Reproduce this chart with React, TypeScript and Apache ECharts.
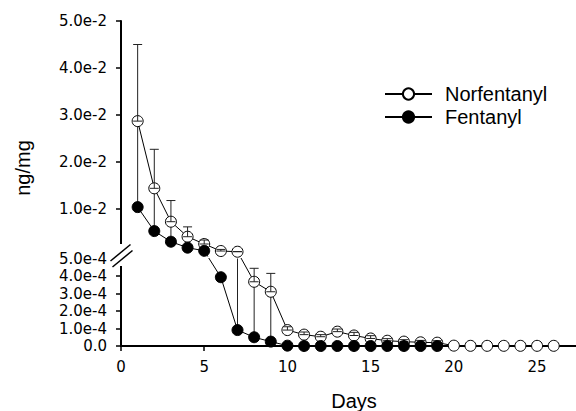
import React, { useEffect, useRef } from "react";
import * as echarts from "echarts";

// ---- data ----
const days: number[] = [1, 2, 3, 4, 5, 6, 7, 8, 9, 10, 11, 12, 13, 14, 15, 16, 17, 18, 19, 20, 21, 22, 23, 24, 25, 26];
const norfentanyl: number[] = [
  2.87e-2, 1.44e-2, 7.3e-3, 4.1e-3, 2.55e-3, 1.06e-3, 9.1e-4, 3.67e-4, 3.1e-4, 0.91e-4,
  0.65e-4, 0.53e-4, 0.82e-4, 0.6e-4, 0.43e-4, 0.3e-4, 0.25e-4, 0.21e-4, 0.19e-4,
  0.02e-4, 0.01e-4, 0.01e-4, 0.01e-4, 0.01e-4, 0.01e-4, 0.01e-4,
];
const fentanyl: number[] = [
  1.04e-2, 5.3e-3, 3.04e-3, 1.77e-3, 1.1e-3, 3.93e-4, 0.91e-4, 0.5e-4, 0.25e-4, 0.02e-4,
  0, 0, 0, 0, 0, 0, 0, 0, 0,
];
// upper end of the Norfentanyl error bars (days 1-19)
const norfErrHigh: number[] = [
  4.5e-2, 2.27e-2, 1.18e-2, 6.2e-3, 3.4e-3, 1.4e-3, 9.5e-4, 4.44e-4, 4.15e-4, 1.1e-4,
  0.8e-4, 0.65e-4, 0.97e-4, 0.78e-4, 0.59e-4, 0.42e-4, 0.36e-4, 0.32e-4, 0.3e-4,
];
// lower end of the Norfentanyl error bars (null = not visible)
const norfErrLow: (number | null)[] = [
  1.04e-2, 5.3e-3, 3.04e-3, 1.77e-3, 1.1e-3, null, 0.91e-4, 0.5e-4, 0.25e-4,
];
const upperTicks = { min: 0, max: 0.05, interval: 0.01 };
const lowerTicks = { min: 0, max: 5e-4, interval: 1e-4 };

// ---- layout ----
const W = 576;
const H = 411;
const LEFT = 121;
const U_TOP = 21;
const U_H = 235;
const L_TOP = 258.5;
const L_H = 87.5;

const yUpper = (v: number) => U_TOP + U_H * (1 - v / upperTicks.max);
const yLower = (v: number) => L_TOP + L_H * (1 - v / lowerTicks.max);
// value expressed on the upper axis (values of the lower segment are pushed below it)
const toUpper = (v: number) => (v > lowerTicks.max ? v : upperTicks.max * (1 - (yLower(v) - U_TOP) / U_H));
// value expressed on the lower axis (values of the upper segment are pushed above it)
const toLower = (v: number) => (v <= lowerTicks.max ? v : lowerTicks.max * (1 - (yUpper(v) - L_TOP) / L_H));

const TICK_FONT = "DejaVu Sans";
const TITLE_FONT = "Liberation Sans";

function App() {
  const ref = useRef<HTMLDivElement>(null);
  useEffect(() => {
    if (!ref.current) return;
    const chart = echarts.init(ref.current, undefined, { renderer: "svg" });

    const makeSeries = (tf: (v: number) => number, gi: number) => {
      const norfData = days.map((d, i) => [d, tf(norfentanyl[i])]);
      const fentData = fentanyl.map((v, i) => [days[i], tf(v)]);
      const highData = norfErrHigh.map((t, i) => [days[i], tf(norfentanyl[i]), tf(t)]);
      const lowData: number[][] = [];
      norfErrLow.forEach((l, i) => {
        if (l != null) lowData.push([days[i], tf(norfentanyl[i]), tf(l)]);
      });
      return [
        {
          type: "custom",
          name: "Norfentanyl error low",
          xAxisIndex: gi,
          yAxisIndex: gi,
          clip: true,
          z: 1,
          data: lowData,
          renderItem: (params: any, api: any) => {
            const p0 = api.coord([api.value(0), api.value(1)]);
            const p1 = api.coord([api.value(0), api.value(2)]);
            return {
              type: "line",
              shape: { x1: p0[0], y1: p0[1], x2: p1[0], y2: p1[1] },
              style: { stroke: "#222", lineWidth: 1 },
            };
          },
        },
        {
          type: "line",
          name: "Norfentanyl",
          xAxisIndex: gi,
          yAxisIndex: gi,
          z: 2,
          data: norfData,
          symbol: "circle",
          symbolSize: 11,
          showAllSymbol: true,
          clip: true,
          lineStyle: { color: "#000", width: 1 },
          itemStyle: { color: "#fff", borderColor: "#000", borderWidth: 1 },
        },
        {
          type: "custom",
          name: "Norfentanyl error high",
          xAxisIndex: gi,
          yAxisIndex: gi,
          clip: true,
          z: 3,
          data: highData,
          renderItem: (params: any, api: any) => {
            const p0 = api.coord([api.value(0), api.value(1)]);
            const p1 = api.coord([api.value(0), api.value(2)]);
            const hw = 4.5;
            const st = { stroke: "#222", lineWidth: 1 };
            return {
              type: "group",
              children: [
                { type: "line", shape: { x1: p0[0], y1: p0[1], x2: p1[0], y2: p1[1] }, style: st },
                { type: "line", shape: { x1: p1[0] - hw, y1: p1[1], x2: p1[0] + hw, y2: p1[1] }, style: st },
                { type: "line", shape: { x1: p0[0] - hw, y1: p0[1], x2: p0[0] + hw, y2: p0[1] }, style: st },
              ],
            };
          },
        },
        {
          type: "line",
          name: "Fentanyl",
          xAxisIndex: gi,
          yAxisIndex: gi,
          z: 4,
          data: fentData,
          symbol: "circle",
          symbolSize: 11,
          showAllSymbol: true,
          clip: true,
          lineStyle: { color: "#000", width: 1 },
          itemStyle: { color: "#000", borderColor: "#000", borderWidth: 1 },
        },
      ];
    };

    const xAxisBase = {
      type: "value",
      min: 0,
      max: 28,
      interval: 5,
    };
    const axisLine = { show: true, lineStyle: { color: "#000", width: 2 } };
    const axisTick = { show: true, inside: false, length: 5, lineStyle: { color: "#000", width: 1.5 } };

    const option: any = {
      animation: false,
      backgroundColor: "#fff",
      grid: [
        { left: LEFT, top: U_TOP, height: U_H, right: -11, outerBoundsMode: "none", containLabel: false },
        { left: LEFT, top: L_TOP, height: L_H, right: -11, outerBoundsMode: "none", containLabel: false },
      ],
      xAxis: [
        { ...xAxisBase, gridIndex: 0, show: false },
        {
          ...xAxisBase,
          gridIndex: 1,
          axisLine,
          axisTick,
          splitLine: { show: false },
          axisLabel: {
            showMaxLabel: false,
            margin: 13,
            color: "#000",
            fontFamily: TICK_FONT,
            fontSize: 15,
          },
          name: "Days",
          nameLocation: "middle",
          nameGap: 45,
          nameTextStyle: { color: "#000", fontFamily: TITLE_FONT, fontSize: 20 },
        },
      ],
      yAxis: [
        {
          type: "value",
          gridIndex: 0,
          ...upperTicks,
          axisLine,
          axisTick,
          splitLine: { show: false },
          axisLabel: {
            margin: 14,
            color: "#000",
            fontFamily: TICK_FONT,
            fontSize: 15,
            formatter: (v: number) => (v === 0 ? "" : v.toExponential(1)),
          },
        },
        {
          type: "value",
          gridIndex: 1,
          ...lowerTicks,
          axisLine,
          axisTick,
          splitLine: { show: false },
          axisLabel: {
            margin: 14,
            color: "#000",
            fontFamily: TICK_FONT,
            fontSize: 15,
            formatter: (v: number) => (v === 0 ? "0.0" : v.toExponential(1)),
          },
        },
      ],
      legend: {
        data: ["Norfentanyl", "Fentanyl"],
        orient: "vertical",
        left: 379,
        top: 79,
        itemWidth: 47,
        itemHeight: 14,
        itemGap: 3,
        selectedMode: false,
        textStyle: { color: "#000", fontFamily: TITLE_FONT, fontSize: 20, padding: [0, 0, 0, 8] },
      },
      graphic: [
        {
          type: "rect",
          z: 10,
          shape: { x: 114, y: 244, width: 12, height: 22 },
          style: { fill: "#fff" },
        },
        {
          type: "line",
          z: 11,
          shape: { x1: 110.5, y1: 261, x2: 130.5, y2: 244.5 },
          style: { stroke: "#000", lineWidth: 1.5 },
        },
        {
          type: "line",
          z: 11,
          shape: { x1: 112.5, y1: 267, x2: 132.5, y2: 250.5 },
          style: { stroke: "#000", lineWidth: 1.5 },
        },
        {
          type: "text",
          z: 11,
          x: 23,
          y: 168,
          rotation: Math.PI / 2,
          style: {
            text: "ng/mg",
            fill: "#000",
            font: `20px "${TITLE_FONT}"`,
            align: "center",
            verticalAlign: "middle",
          },
        },
      ],
      series: [...makeSeries(toUpper, 0), ...makeSeries(toLower, 1)],
    };
    chart.setOption(option);
    return () => chart.dispose();
  }, []);
  return <div ref={ref} style={{ position: "absolute", left: 0, top: 0, width: W, height: H }} />;
}

export default App;
